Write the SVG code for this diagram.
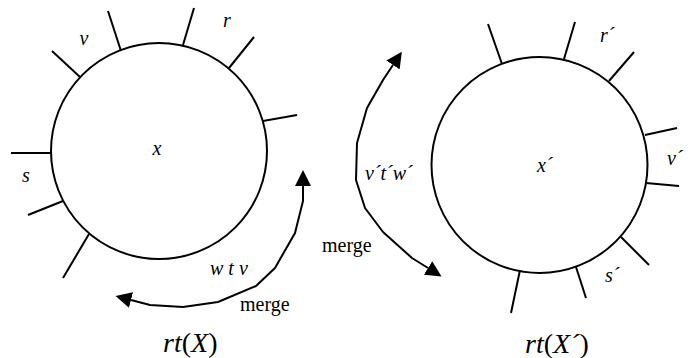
<svg xmlns="http://www.w3.org/2000/svg" width="689" height="358" viewBox="0 0 689 358">
<style>
.c{fill:none;stroke:#000;stroke-width:2}
.sp{stroke:#000;stroke-width:2}
.con{fill:none;stroke:#000;stroke-width:2;stroke-linejoin:round}
text{font-family:"Liberation Serif","Times New Roman",Tinos,serif;fill:#000}
.lbl{font-size:20px;font-style:italic}
.mg{font-size:20px}
.ttl{font-size:28px}
.it{font-style:italic}
</style>
<defs>
<marker id="ah" viewBox="0 0 16 16" markerUnits="userSpaceOnUse" markerWidth="16" markerHeight="16" refX="0" refY="8" orient="auto-start-reverse">
<path d="M0,0 L16,8 L0,16 z" fill="#000"/>
</marker>
</defs>
<rect width="689" height="358" fill="#fff"/>
<g id="nodeX">
<circle class="c" cx="159" cy="151" r="108"/>
<line class="sp" x1="121" y1="51" x2="108" y2="11"/>
<line class="sp" x1="183" y1="45" x2="194" y2="8"/>
<line class="sp" x1="229" y1="68" x2="254" y2="37"/>
<line class="sp" x1="263" y1="121" x2="297" y2="115"/>
<line class="sp" x1="80" y1="77" x2="52" y2="51"/>
<line class="sp" x1="51" y1="153" x2="11" y2="153"/>
<line class="sp" x1="63" y1="201" x2="28" y2="215"/>
<line class="sp" x1="89" y1="234" x2="63" y2="278"/>
<text class="lbl" x="84" y="45" text-anchor="middle">v</text>
<text class="lbl" x="227" y="27" text-anchor="middle">r</text>
<text class="lbl" x="157" y="155" text-anchor="middle">x</text>
<text class="lbl" x="26" y="182" text-anchor="middle">s</text>
<text class="lbl" x="210" y="275">w t v</text>
<text class="ttl" x="163" y="352"><tspan class="it">rt</tspan>(<tspan class="it">X</tspan>)</text>
</g>
<g id="nodeX2">
<circle class="c" cx="539.5" cy="165" r="108"/>
<line class="sp" x1="502" y1="64" x2="488" y2="24"/>
<line class="sp" x1="564" y1="59" x2="575" y2="22"/>
<line class="sp" x1="609" y1="81" x2="634" y2="52"/>
<line class="sp" x1="645" y1="135" x2="677" y2="128"/>
<line class="sp" x1="646" y1="183" x2="679" y2="186"/>
<line class="sp" x1="621" y1="237" x2="649" y2="265"/>
<line class="sp" x1="576" y1="267" x2="586" y2="298"/>
<line class="sp" x1="520" y1="270" x2="511" y2="313"/>
<text class="lbl" x="600" y="42">r´</text>
<text class="lbl" x="537" y="172">x´</text>
<text class="lbl" x="667" y="165">v´</text>
<text class="lbl" x="605" y="282">s´</text>
<text class="lbl" x="365" y="180">v´t´w´</text>
<text class="ttl" x="525" y="353"><tspan class="it">rt</tspan>(<tspan class="it">X´</tspan>)</text>
</g>
<g id="connectors">
<path class="con" marker-start="url(#ah)" marker-end="url(#ah)" d="M303,186 L303,201 L295,233 L275,268 L256,286 L218,302 L183,307 L150,305 L131,300"/>
<text class="mg" x="240" y="311">merge</text>
<path class="con" marker-start="url(#ah)" marker-end="url(#ah)" d="M393,65 L383,80 L367,108 L357,143 L356,180 L365,208 L383,232 L412,258 L428,268"/>
<text class="mg" x="322" y="252">merge</text>
</g>
</svg>
